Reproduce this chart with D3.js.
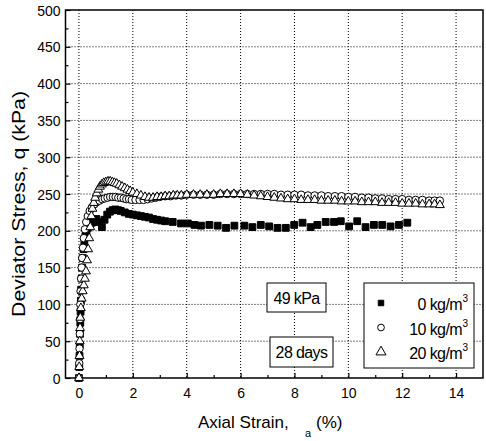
<!DOCTYPE html>
<html>
<head>
<meta charset="utf-8">
<script src="https://cdn.jsdelivr.net/npm/d3@7"></script>
<style>
  body { margin: 0; background: #fff; }
  svg text { font-family: "Liberation Sans", Arial, sans-serif; fill: #000; }
  .grid line { stroke: #000; stroke-width: 1; stroke-dasharray: 1,2; }
  .axis path { display: none; }
  .axis line { stroke: #000; stroke-width: 1.2; }
</style>
</head>
<body>
<svg id="chart" width="486" height="441"></svg>
<script>
"use strict";

// strain (%), deviator stress (kPa)
var fiber0 = [
  [0,0],[0.01,15],[0.02,30],[0.03,45],[0.04,60],[0.05,75],[0.06,90],[0.07,105],[0.08,120],
  [0.1,135],[0.12,150],[0.14,163],[0.17,175],[0.2,185],[0.24,193],[0.28,199],[0.33,204],
  [0.4,208],[0.48,211],[0.56,214],[0.65,216],[0.75,212],[0.85,205],[0.95,215],[1.05,222],
  [1.15,226],[1.25,228],[1.35,229],[1.45,228],[1.55,227],[1.7,225],[1.85,223],[2.0,222],
  [2.15,221],[2.3,220],[2.45,219],[2.6,218],[2.75,216],[2.9,215],[3.05,214],[3.2,213],
  [3.48,212],[3.79,210],[4.04,210],[4.29,208],[4.53,207],[4.84,208],[5.15,207],[5.46,204],
  [5.77,207],[6.14,207],[6.44,205],[6.75,208],[7.06,206],[7.37,204],[7.68,204],[7.99,208],
  [8.3,211],[8.6,205],[8.85,208],[9.16,212],[9.47,212],[9.72,213],[10.03,206],[10.33,213],
  [10.64,205],[10.95,208],[11.26,208],[11.57,206],[11.88,208],[12.19,211]
];

var fiber10 = [
  [0,0],[0.01,20],[0.02,40],[0.03,60],[0.04,80],[0.05,100],[0.06,118],[0.08,135],[0.1,150],
  [0.12,163],[0.15,177],[0.18,190],[0.22,202],[0.27,212],[0.33,220],[0.4,227],[0.48,232],
  [0.57,236],[0.66,239],[0.76,241],[0.86,243],[0.96,244],[1.06,245],[1.16,246],[1.26,246],
  [1.36,246],[1.46,245],[1.56,245],[1.66,244],[1.76,243],[1.86,243],[1.96,242],[2.1,242],
  [2.25,242],[2.4,242],[2.55,243],[2.7,244],[2.85,245],[3.0,246],[3.2,247],[3.4,247],
  [3.6,248],[3.8,248],[4.0,249],[4.25,249],[4.5,249],[4.75,249],[5.0,249],[5.25,250],
  [5.5,250],[5.75,250],[6.0,250],[6.25,250],[6.5,250],[6.75,250],[7.0,250],[7.25,250],
  [7.5,249],[7.75,249],[8.0,249],[8.25,249],[8.5,248],[8.75,248],[9.0,248],[9.25,247],
  [9.5,247],[9.75,247],[10.0,246],[10.25,246],[10.5,245],[10.75,245],[11.0,244],[11.25,244],
  [11.5,243],[11.75,243],[12.0,243],[12.25,242],[12.5,242],[12.75,242],[13.0,241],[13.2,241],
  [13.4,241]
];

var fiber20 = [
  [0,0],[0.01,15],[0.02,30],[0.03,50],[0.04,68],[0.05,82],[0.07,95],[0.1,108],[0.14,118],
  [0.18,126],[0.22,135],[0.26,145],[0.3,160],[0.34,175],[0.38,190],[0.42,205],[0.46,220],
  [0.5,230],[0.55,238],[0.6,245],[0.66,251],[0.72,256],[0.78,260],[0.85,263],[0.92,265],
  [1.0,266],[1.08,267],[1.16,267],[1.24,266],[1.32,265],[1.4,264],[1.5,262],[1.6,260],
  [1.7,258],[1.8,256],[1.9,254],[2.0,252],[2.15,250],[2.3,248],[2.45,246],[2.6,245],
  [2.75,245],[2.9,246],[3.05,246],[3.2,247],[3.35,247],[3.5,248],[3.65,248],[3.8,248],
  [4.0,249],[4.25,249],[4.5,249],[4.75,249],[5.0,249],[5.25,250],[5.5,250],[5.75,250],
  [6.0,250],[6.25,249],[6.5,248],[6.75,247],[7.0,246],[7.25,245],[7.5,244],[7.75,243],
  [8.0,243],[8.25,242],[8.5,242],[8.75,242],[9.0,241],[9.25,241],[9.5,241],[9.75,240],
  [10.0,240],[10.25,240],[10.5,239],[10.75,239],[11.0,239],[11.25,238],[11.5,238],[11.75,238],
  [12.0,237],[12.25,237],[12.5,237],[12.75,236],[13.0,236],[13.2,236],[13.4,235]
];

var seriesNames = ["0 kg/m", "10 kg/m", "20 kg/m"];
var xTicks = [0, 2, 4, 6, 8, 10, 12, 14];
var xMinor = [1, 3, 5, 7, 9, 11, 13];
var yTicks = [0, 50, 100, 150, 200, 250, 300, 350, 400, 450, 500];
var yMinor = [25, 75, 125, 175, 225, 275, 325, 375, 425, 475];

var plot = {left: 65.5, right: 483, top: 10, bottom: 378};

var svg = d3.select("#chart");

var x = d3.scaleLinear().domain([-0.5, 15]).range([plot.left, plot.right]);
var y = d3.scaleLinear().domain([0, 500]).range([plot.bottom, plot.top]);

// dotted grid
var grid = svg.append("g").attr("class", "grid");
grid.selectAll(".gx")
  .data(xTicks)
  .enter().append("line")
  .attr("x1", function(d) {return x(d)})
  .attr("x2", function(d) {return x(d)})
  .attr("y1", plot.top)
  .attr("y2", plot.bottom);
grid.selectAll(".gy")
  .data(yTicks.filter(function(d) {return d > 0 && d < 500}))
  .enter().append("line")
  .attr("x1", plot.left)
  .attr("x2", plot.right)
  .attr("y1", function(d) {return y(d)})
  .attr("y2", function(d) {return y(d)});

// axes, ticks pointing inside
var xAxis = svg.append("g").attr("class", "axis")
  .attr("transform", "translate(0," + plot.bottom + ")")
  .call(d3.axisBottom(x).tickValues(xTicks).tickSizeInner(-5).tickSizeOuter(0).tickPadding(10));
svg.append("g").attr("class", "axis")
  .attr("transform", "translate(0," + plot.bottom + ")")
  .call(d3.axisBottom(x).tickValues(xMinor).tickSizeInner(-3).tickSizeOuter(0).tickFormat(""));
var yAxis = svg.append("g").attr("class", "axis")
  .attr("transform", "translate(" + plot.left + ",0)")
  .call(d3.axisLeft(y).tickValues(yTicks).tickSizeInner(-5).tickSizeOuter(0).tickPadding(5));
svg.append("g").attr("class", "axis")
  .attr("transform", "translate(" + plot.left + ",0)")
  .call(d3.axisLeft(y).tickValues(yMinor).tickSizeInner(-3).tickSizeOuter(0).tickFormat(""));

xAxis.selectAll("text").style("font-size", "14px").attr("dy", "0.71em");
yAxis.selectAll("text").style("font-size", "14px").attr("dy", "0.36em");

// frame
svg.append("rect")
  .attr("x", plot.left)
  .attr("y", plot.top)
  .attr("width", plot.right - plot.left)
  .attr("height", plot.bottom - plot.top)
  .style("fill", "none")
  .style("stroke", "#000")
  .style("stroke-width", 1.5);

// markers
var shapes = [
  {data: fiber0, type: d3.symbolSquare, size: 46, fill: "#000"},
  {data: fiber10, type: d3.symbolCircle, size: 44, fill: "#fff"},
  {data: fiber20, type: d3.symbolTriangle, size: 34, fill: "#fff"}
];

var plotPane = svg.append("g");
shapes.forEach(function(s) {
  var sym = d3.symbol().type(s.type).size(s.size);
  plotPane.append("g").selectAll("path")
    .data(s.data)
    .enter().append("path")
    .attr("d", sym)
    .attr("transform", function(d) {return "translate(" + x(d[0]) + "," + y(d[1]) + ")"})
    .style("fill", s.fill)
    .style("stroke", "#000")
    .style("stroke-width", 1);
});

// axis titles
svg.append("text")
  .attr("transform", "translate(25,204) rotate(-90)")
  .attr("text-anchor", "middle")
  .style("font-size", "19px")
  .attr("textLength", 226)
  .attr("lengthAdjust", "spacingAndGlyphs")
  .text("Deviator Stress, q (kPa)");

var xt = svg.append("text")
  .attr("x", 198)
  .attr("y", 428)
  .style("font-size", "17px");
xt.append("tspan").text("Axial Strain,");
xt.append("tspan").attr("x", 305).attr("y", 437).style("font-size", "11px").text("a");
xt.append("tspan").attr("x", 316).attr("y", 428).text("(%)");

// annotation boxes
function labelBox(bx, by, bw, bh, tx, ty, label) {
  svg.append("rect")
    .attr("x", bx).attr("y", by).attr("width", bw).attr("height", bh)
    .style("fill", "#fff").style("stroke", "#000").style("stroke-width", 1);
  svg.append("text")
    .attr("x", tx).attr("y", ty)
    .attr("text-anchor", "middle")
    .style("font-size", "16px")
    .style("letter-spacing", "-0.6px")
    .text(label);
}
labelBox(267, 283, 59, 29, 296.5, 304, "49 kPa");
labelBox(270, 337, 63, 30, 301.5, 358, "28 days");

// legend
var legend = svg.append("g");
legend.append("rect")
  .attr("x", 364).attr("y", 283).attr("width", 110).attr("height", 85)
  .style("fill", "#fff").style("stroke", "#000").style("stroke-width", 1);

var legendSizes = [30, 36, 44];
shapes.forEach(function(s, i) {
  var ly = 303 + i * 24.5;
  legend.append("path")
    .attr("d", d3.symbol().type(s.type).size(legendSizes[i]))
    .attr("transform", "translate(381," + ly + ")")
    .style("fill", s.fill)
    .style("stroke", "#000")
    .style("stroke-width", 1);
  var t = legend.append("text")
    .attr("x", 462)
    .attr("y", ly + 7)
    .attr("text-anchor", "end")
    .style("font-size", "16px")
    .style("letter-spacing", "-0.6px");
  t.text(seriesNames[i]);
  legend.append("text")
    .attr("x", 462.5)
    .attr("y", ly - 1)
    .style("font-size", "10px")
    .text("3");
});
</script>
</body>
</html>
